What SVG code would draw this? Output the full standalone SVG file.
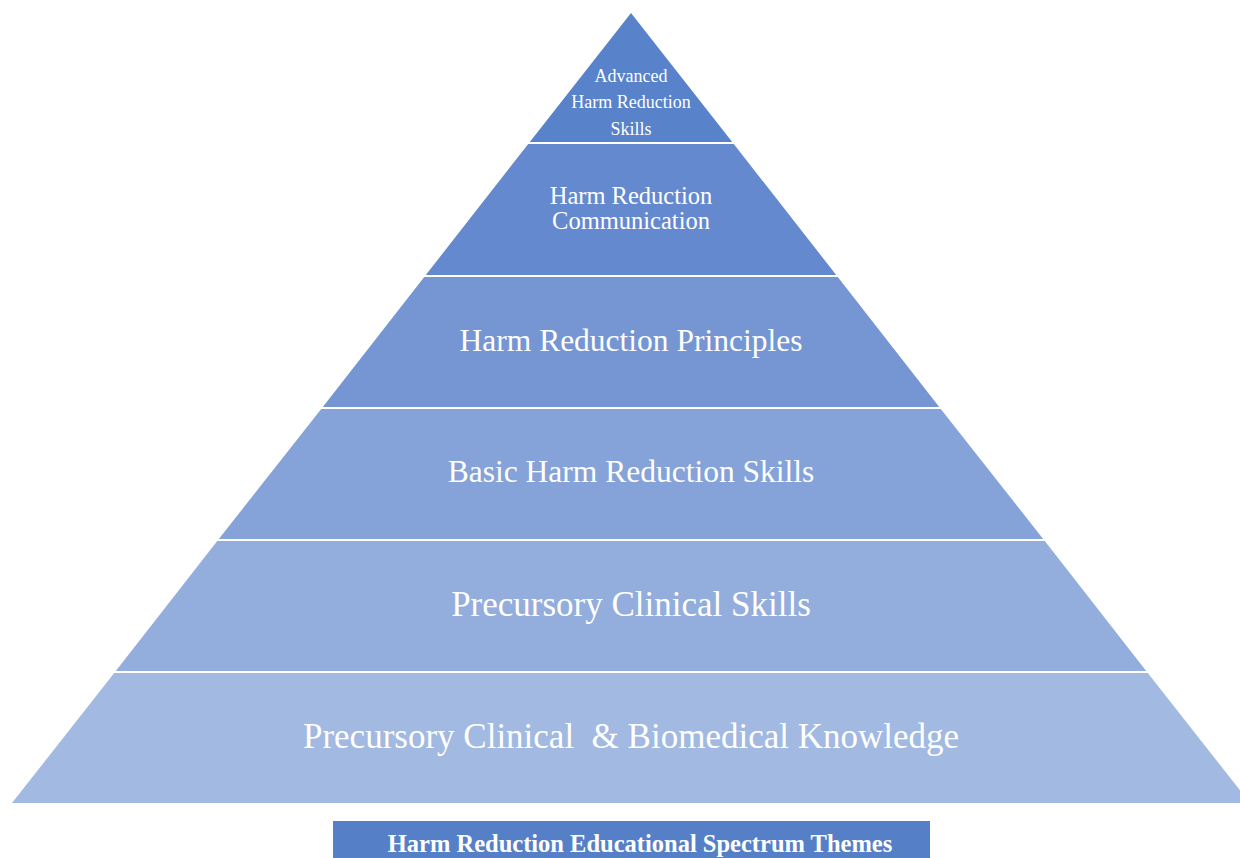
<svg xmlns="http://www.w3.org/2000/svg" width="1240" height="858" viewBox="0 0 1240 858">
<style>
.t{font-family:"Liberation Serif","Times New Roman",serif;fill:#fff;text-anchor:middle}
.sep{stroke:#fff;stroke-width:2}
</style>
<rect width="1240" height="858" fill="#fff"/>
<g id="layer1"><polygon points="631,13 733,143 529,143" fill="#5882ca"/>
<text class="t" font-size="18" x="631" y="82">Advanced</text>
<text class="t" font-size="18" x="631" y="108">Harm Reduction</text>
<text class="t" font-size="18" x="631" y="135">Skills</text></g>
<g id="layer2"><polygon points="529,143 733,143 837,276 425,276" fill="#6489cf"/>
<text class="t" font-size="24.5" x="631" y="204">Harm Reduction</text>
<text class="t" font-size="24.5" x="631" y="229">Communication</text></g>
<g id="layer3"><polygon points="425,276 837,276 940,408 322,408" fill="#7596d3"/>
<text class="t" font-size="31.5" x="631" y="351">Harm Reduction Principles</text></g>
<g id="layer4"><polygon points="322,408 940,408 1044,540 218,540" fill="#85a3d9"/>
<text class="t" font-size="31.5" x="631" y="482">Basic Harm Reduction Skills</text></g>
<g id="layer5"><polygon points="218,540 1044,540 1147,672 115,672" fill="#93addd"/>
<text class="t" font-size="35" x="631" y="616">Precursory Clinical Skills</text></g>
<g id="layer6"><polygon points="115,672 1147,672 1250,803 12,803" fill="#a2b9e1"/>
<text class="t" font-size="35" x="631" y="748" xml:space="preserve">Precursory Clinical  &amp; Biomedical Knowledge</text></g>
<g id="connectors">
<line class="sep" x1="520" y1="143" x2="745" y2="143"/>
<line class="sep" x1="415" y1="276" x2="850" y2="276"/>
<line class="sep" x1="310" y1="408" x2="950" y2="408"/>
<line class="sep" x1="205" y1="540" x2="1055" y2="540"/>
<line class="sep" x1="100" y1="672" x2="1160" y2="672"/>
</g>
<g id="caption"><rect x="333" y="821" width="597" height="37" fill="#5580c8"/>
<text class="t" font-size="24.5" font-weight="bold" x="640" y="852">Harm Reduction Educational Spectrum Themes</text></g>
</svg>
